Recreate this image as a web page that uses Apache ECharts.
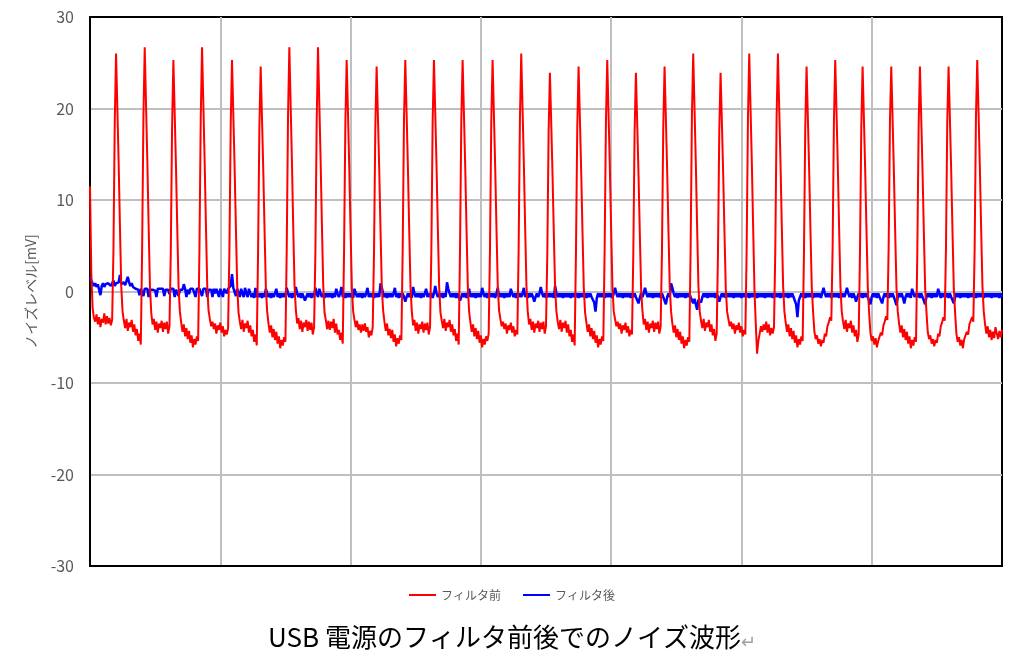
<!DOCTYPE html>
<html>
<head>
<meta charset="utf-8">
<script src="https://cdn.jsdelivr.net/npm/echarts@6/dist/echarts.min.js"></script>
<style>
  html, body { margin: 0; padding: 0; background: #fff; }
  #noise { width: 1024px; height: 663px; }
</style>
</head>
<body>
<div id="noise"></div>
<script>
// 波形データ（サンプル番号 0〜700、単位 mV）
var titleText = 'USB 電源のフィルタ前後でのノイズ波形';
var seriesNames = ['フィルタ前', 'フィルタ後'];
var yTicks = [-30, -20, -10, 0, 10, 20, 30];

var before = [
  11.5, 2.0, -1.8, -2.9, -3.3, -2.5, -3.6, -2.8, -3.9, -3.0, -3.4, -2.4, -3.6, -2.7, -3.5, -2.9, -3.7, -3.1, 4.5, 18.5,
  26.0, 20.0, 14.0, 7.0, 0.5, -2.2, -3.2, -4.0, -3.0, -4.3, -3.4, -3.9, -3.1, -4.4, -3.6, -4.8, -4.1, -5.4, -4.6, -5.8, 4.5, 19.0,
  26.7, 20.5, 14.3, 7.2, 0.6, -2.3, -3.6, -3.0, -4.2, -3.3, -4.5, -3.5, -4.0, -3.2, -4.4, -3.4, -4.1, -3.3, -4.6, -3.8, 4.2, 18.0,
  25.3, 19.5, 13.6, 6.8, 0.4, -2.2, -3.4, -4.4, -3.6, -4.9, -4.0, -5.2, -4.3, -5.6, -4.8, -6.1, -5.2, -5.8, -4.9, -5.4, 4.6, 19.0,
  26.7, 20.5, 14.2, 7.1, 0.5, -2.1, -3.0, -3.8, -3.3, -4.1, -3.5, -4.6, -3.7, -4.2, -3.4, -4.5, -3.8, -4.9, -4.2, -4.7, -4.0, 4.4, 18.2,
  25.3, 19.4, 13.5, 6.9, 0.5, -2.3, -3.3, -4.1, -3.1, -4.4, -3.5, -4.0, -3.2, -4.5, -3.7, -4.9, -4.2, -5.5, -4.7, -5.9, 4.3, 17.8,
  24.6, 19.0, 13.2, 6.6, 0.3, -2.2, -3.5, -4.5, -3.7, -5.0, -4.1, -5.3, -4.4, -5.7, -4.9, -6.2, -5.3, -5.9, -5.0, -5.5, 4.7, 19.2,
  26.7, 20.5, 14.1, 7.0, 0.6, -2.0, -3.5, -2.9, -4.1, -3.2, -4.4, -3.4, -3.9, -3.1, -4.3, -3.3, -4.2, -3.4, -4.7, -3.9, 4.3, 18.6,
  26.7, 20.6, 14.4, 7.3, 0.7, -2.3, -3.1, -4.1, -3.2, -4.2, -3.3, -4.0, -3.0, -4.5, -3.5, -4.7, -4.2, -5.3, -4.5, -5.7, 4.4, 18.3,
  25.3, 19.6, 13.5, 6.7, 0.4, -2.2, -3.1, -3.9, -3.2, -4.2, -3.6, -4.5, -3.6, -4.3, -3.5, -4.4, -3.9, -5.0, -4.3, -4.8, -3.9, 4.3, 17.9,
  24.6, 19.1, 13.3, 6.6, 0.4, -2.1, -3.3, -4.3, -3.5, -4.8, -4.1, -5.1, -4.2, -5.5, -4.7, -6.0, -5.1, -5.7, -4.8, -5.3, 4.5, 18.8,
  25.3, 19.5, 13.6, 6.8, 0.5, -2.2, -3.7, -3.1, -4.3, -3.4, -4.6, -3.6, -4.1, -3.3, -4.5, -3.5, -4.2, -3.4, -4.7, -3.9, 4.4, 18.6,
  25.3, 19.5, 13.6, 6.8, 0.5, -2.3, -3.2, -4.0, -3.0, -4.3, -3.4, -3.9, -3.1, -4.4, -3.6, -4.8, -4.1, -5.4, -4.6, -5.8, 4.5, 18.7,
  25.3, 19.5, 13.6, 6.8, 0.5, -2.2, -3.4, -4.4, -3.6, -4.9, -4.0, -5.2, -4.3, -5.6, -4.8, -6.1, -5.2, -5.8, -4.9, -5.4, -4.6, 4.5, 18.6,
  25.3, 19.5, 13.6, 6.8, 0.5, -2.1, -3.0, -3.8, -3.3, -4.1, -3.5, -4.6, -3.7, -4.2, -3.4, -4.5, -3.8, -4.9, -4.2, -4.7, 4.6, 19.0,
  26.0, 20.0, 14.0, 7.0, 0.6, -2.2, -3.6, -3.0, -4.2, -3.3, -4.5, -3.5, -4.0, -3.2, -4.4, -3.4, -4.1, -3.3, -4.6, -3.8, 4.0, 17.4,
  23.9, 18.5, 12.8, 6.4, 0.3, -2.2, -3.3, -4.1, -3.1, -4.4, -3.4, -4.0, -3.2, -4.5, -3.6, -4.9, -4.2, -5.5, -4.7, -5.9, 4.3, 17.9,
  24.6, 19.0, 13.2, 6.6, 0.4, -2.3, -3.4, -4.4, -3.6, -4.9, -4.0, -5.2, -4.3, -5.6, -4.8, -6.1, -5.2, -5.8, -4.9, -5.4, 4.5, 18.5,
  25.3, 19.5, 13.6, 6.8, 0.5, -2.2, -3.0, -3.8, -3.3, -4.1, -3.5, -4.6, -3.7, -4.2, -3.4, -4.5, -3.8, -4.9, -4.2, -4.7, 4.0, 17.4,
  23.9, 18.5, 12.8, 6.4, 0.3, -2.1, -3.6, -3.0, -4.2, -3.3, -4.5, -3.5, -4.0, -3.2, -4.4, -3.4, -4.1, -3.3, -4.6, -3.8, 4.3, 17.9,
  24.6, 19.0, 13.2, 6.6, 0.4, -2.2, -3.5, -4.5, -3.7, -5.0, -4.1, -5.3, -4.4, -5.7, -4.9, -6.2, -5.3, -5.9, -5.0, -5.5, 4.6, 19.2,
  26.0, 20.0, 14.0, 7.0, 0.6, -2.2, -3.2, -4.0, -3.0, -4.3, -3.4, -3.9, -3.1, -4.4, -3.6, -4.8, -4.1, -5.4, -4.6, 4.2, 17.5,
  23.9, 18.5, 12.8, 6.4, 0.3, -2.2, -3.0, -3.8, -3.3, -4.1, -3.5, -4.6, -3.7, -4.2, -3.4, -4.5, -3.8, -4.9, -4.2, -4.7, 4.5, 18.8,
  26.0, 20.0, 14.0, 7.0, 0.2, -3.5, -6.8, -5.4, -4.6, -3.8, -4.4, -3.6, -4.2, -3.3, -4.5, -3.6, -4.8, -4.0, -4.6, -3.9, 4.6, 19.0,
  26.0, 20.0, 14.0, 7.0, 0.6, -2.2, -3.4, -4.4, -3.6, -4.9, -4.0, -5.2, -4.3, -5.6, -4.8, -6.1, -5.2, -5.8, -4.9, -5.4, 4.3, 17.9,
  24.6, 19.0, 13.2, 6.6, 0.4, -2.2, -4.4, -5.2, -4.8, -5.7, -5.2, -6.0, -5.3, -5.6, -4.6, -4.9, -3.8, -3.4, -2.8, -3.2, 4.8, 18.6,
  25.3, 19.5, 13.6, 6.8, 0.5, -2.2, -3.3, -4.1, -3.1, -4.4, -3.5, -4.0, -3.2, -4.5, -3.7, -4.9, -4.2, -5.5, -4.7, 4.3, 17.9,
  24.6, 19.0, 13.2, 6.6, 0.4, -2.3, -4.5, -5.4, -4.9, -5.8, -5.1, -6.1, -5.4, -5.5, -4.5, -4.8, -3.7, -3.3, -2.7, -3.1, 4.8, 18.6,
  24.6, 19.0, 13.2, 6.6, 0.4, -2.2, -3.5, -4.5, -3.7, -5.0, -4.1, -5.3, -4.4, -5.7, -4.9, -6.2, -5.3, -5.9, -5.0, -5.5, 4.3, 17.9,
  24.6, 19.0, 13.2, 6.6, 0.4, -2.2, -4.4, -5.2, -4.8, -5.7, -5.2, -6.0, -5.3, -5.6, -4.6, -4.9, -3.8, -3.4, -2.8, -3.2, 4.8, 18.6,
  24.6, 19.0, 13.2, 6.6, 0.4, -2.3, -4.6, -5.5, -5.0, -5.9, -5.3, -6.2, -5.2, -5.4, -4.4, -4.7, -3.6, -3.2, -2.8, -3.3, 4.6, 19.0,
  25.3, 19.5, 13.6, 6.8, 0.5, -2.2, -3.6, -4.6, -3.8, -5.0, -4.2, -5.3, -4.4, -5.1, -3.9, -4.6, -5.2, -4.3, -5.0, -4.2
];

var after = [
  1.6, 1.2, 0.9, 0.6, 0.9, 0.5, 0.8, 0.2, -0.4, 0.6, 0.9, 0.5, 0.8, 0.6, 0.9, 0.7, 0.6, 0.8, 1.2, 0.6,
  0.9, 0.7, 1.0, 1.8, 0.8, 0.6, 1.0, 0.7, 0.9, 1.6, 1.0, 0.6, 0.9, 0.5, 0.4, 0.3, 0.5, 0.2, -0.4, 0.3,
  0.2, -0.5, 0.3, 0.1, 0.3, -0.6, 0.2, 0.3, 0.2, 0.3, 0.1, -0.6, 0.3, 0.2, 0.3, 0.2, 0.3, -0.5, 0.2, 0.3,
  0.2, -0.3, 0.3, 0.2, 0.3, -0.6, 0.2, 0.3, -0.5, 0.2, 0.3, 0.2, 0.8, 0.3, -0.6, 0.2, -0.3, 0.3, 0.2, 0.3,
  0.2, -0.6, 0.3, 0.2, 0.3, 0.2, -0.5, 0.3, 0.2, 0.3, -0.6, 0.2, 0.3, 0.2, -0.6, 0.3, -0.2, 0.3, 0.2, -0.6,
  0.3, 0.2, -0.6, 0.3, 0.2, -0.2, 0.3, 0.2, 0.6, 1.9, 0.4, 0.2, -0.5, 0.3, 0.2, -0.6, 0.3, -0.2, -0.6, 0.4,
  -0.2, -0.6, 0.3, -0.2, -0.6, -0.2, -0.7, 0.4, -0.6, -0.2, -0.6, -0.2, -0.7, -0.2, -0.6, 0.3, -0.2, -0.6, -0.2, -0.7,
  -0.2, -0.6, -0.2, 0.3, -0.6, -0.2, -0.7, -0.2, -0.6, -0.2, -0.6, 0.4, -0.2, -0.6, -0.2, -0.7, -0.2, -0.6, 0.5, -0.2,
  -0.6, -0.2, -0.7, -0.2, -0.6, -1.0, -0.6, -0.2, -0.6, -0.2, -0.7, -0.2, -0.6, 0.4, -0.2, -0.6, 0.3, -0.2, -0.6, -0.2,
  -0.7, -0.2, -0.6, -0.2, -0.6, -0.2, -0.7, -0.2, -0.6, 0.3, -0.2, -0.6, -0.2, 0.5, -0.6, -0.2, -0.7, -0.2, -0.6, -0.2,
  -0.6, -0.2, -0.7, 0.3, -0.2, -0.6, -0.2, -0.6, -0.2, -0.7, -0.2, -0.6, -0.2, 0.4, -0.6, -0.2, -0.6, -0.2, -0.7, -0.2,
  -0.6, -0.2, -0.6, 0.9, 0.4, -0.2, -0.6, -0.2, -0.7, -0.2, -0.6, -0.2, -0.6, -0.2, 0.4, -0.6, -0.2, -0.7, -0.2, -0.6,
  -0.2, -0.6, -1.1, -0.6, -0.2, -0.6, -0.2, -0.7, 0.5, -0.2, -0.6, -0.2, -0.6, -0.2, -0.7, -0.2, -0.6, -0.2, 0.3, -0.6,
  -0.2, -0.6, -0.2, -0.7, -0.2, 0.6, -0.2, -0.6, -0.2, -0.6, -0.2, -0.7, -0.2, -0.6, 1.0, 0.3, -0.2, -0.6, -0.2, -0.6,
  -0.2, -0.7, -0.2, -0.6, -1.0, -0.6, -0.2, -0.6, -0.2, -0.7, -0.2, 0.3, -0.6, -0.2, -0.6, -0.2, -0.7, -0.2, -0.6, -0.2,
  -0.6, 0.4, -0.2, -0.6, -0.2, -0.7, -0.2, -0.6, -0.2, -0.6, -0.2, -0.7, -0.2, 0.4, -0.6, -0.2, -0.6, -0.2, -0.7, -0.2,
  -0.6, -0.2, -0.6, 0.3, -0.2, -0.6, -0.2, -0.7, -0.2, -0.6, -0.2, -0.6, -0.2, 0.4, -0.6, -0.2, -0.7, -0.2, -0.6, -0.2,
  -0.6, -1.1, -0.6, -0.2, -0.6, -0.2, 0.5, -0.2, -0.6, -0.2, -0.7, -0.2, -0.6, -0.2, -0.6, -0.2, -0.7, 0.6, -0.2, -0.6,
  -0.2, -0.6, -0.2, -0.7, -0.2, -0.6, -0.2, -0.6, -0.2, -0.7, -0.2, -0.6, -0.2, -0.6, -0.2, -0.7, -0.2, -0.6, -0.2, -0.6,
  -0.2, -0.7, -0.2, -0.6, -0.2, -0.6, -0.7, -1.2, -2.2, -0.7, -0.2, -0.6, -0.2, -0.6, -0.2, -0.7, -0.2, -0.6, -0.2, -0.6,
  -0.2, -0.7, -0.2, 0.4, -0.2, -0.6, -0.2, -0.6, -0.2, -0.7, -0.2, -0.6, -0.2, -0.6, -0.2, -0.7, -0.2, -0.6, -0.2, -0.6,
  -0.7, -1.3, -0.7, -0.2, -0.6, -0.2, 0.4, -0.2, -0.6, -0.2, -0.6, -0.2, -0.7, -0.2, -0.6, -0.2, -0.6, -0.2, -0.7, -0.2,
  -0.6, -0.7, -1.4, -0.6, -0.2, -0.6, 0.9, 0.4, -0.2, -0.6, -0.2, -0.7, -0.2, -0.6, -0.2, -0.6, -0.2, -0.7, -0.2, -0.6,
  -0.2, -0.6, -0.7, -1.3, -0.8, -1.4, -2.0, -0.9, -0.7, -1.2, -0.6, -0.2, -0.6, -0.2, -0.7, -0.2, -0.6, -0.2, -0.6, -0.2,
  -0.7, -0.2, -0.6, -1.1, -0.6, -0.2, -0.6, -0.2, -0.7, -0.2, -0.6, -0.2, -0.6, -0.2, -0.7, -0.2, -0.6, -0.2, -0.6, -0.2,
  -0.7, -0.2, -0.6, -0.2, -0.6, -0.2, -0.7, -0.2, -0.6, -0.2, -0.6, -0.2, -0.7, -0.2, -0.6, -0.2, -0.6, -0.2, -0.7, -0.2,
  -0.6, -0.2, -0.6, -0.2, -0.7, -0.2, -0.6, -0.2, -0.6, -0.2, -0.7, -0.2, -0.6, -0.2, -0.6, -0.2, -0.7, -0.2, -0.6, -0.2,
  -0.6, -0.7, -1.4, -2.8, -1.0, -0.6, -0.2, -0.6, -0.2, -0.7, -0.2, -0.6, -0.2, -0.6, -0.2, -0.7, -0.2, -0.6, -0.2, -0.6,
  -0.2, -0.7, -0.2, 0.4, -0.2, -0.6, -0.2, -0.6, -0.2, -0.7, -0.2, -0.6, -0.2, -0.6, -0.2, -0.7, -0.2, -0.6, -0.2, -0.6,
  -0.2, 0.4, -0.2, -0.6, -0.2, -0.7, -0.2, -0.6, -1.1, -0.6, -0.2, -0.6, -0.2, -0.7, -0.2, -0.6, -0.2, -0.6, -0.7, -1.4,
  -0.6, -0.2, -0.6, -0.2, -0.7, -0.2, -0.6, -0.7, -1.3, -0.6, -0.2, -0.6, -0.2, -0.7, -0.2, -0.6, -0.2, -0.6, -0.7, -1.5,
  -0.6, -0.2, -0.6, -0.2, -0.7, -1.3, -0.6, -0.2, -0.6, -0.2, -0.7, 0.3, -0.2, -0.6, -0.2, -0.6, -0.2, -0.7, -0.2, -0.6,
  -0.7, -1.4, -0.6, -0.2, -0.6, -0.2, -0.7, -0.2, -0.6, -0.2, -0.6, 0.3, -0.2, -0.7, -0.2, -0.6, -0.2, -0.6, -0.2, -0.7,
  -0.2, -0.6, -0.7, -1.3, -0.6, -0.2, -0.6, -0.2, -0.7, -0.2, -0.6, -0.2, -0.6, -0.2, -0.7, -0.2, -0.6, -0.2, -0.6, -0.2,
  -0.7, -0.2, -0.6, -0.2, -0.6, -0.2, -0.7, -0.2, -0.6, -0.2, -0.6, -0.2, -0.7, -0.2, -0.6, -0.2, -0.6, -0.2, -0.7, -0.2,
  -0.6
];

var myChart = echarts.init(document.getElementById('noise'));

function toPairs(arr) {
  var out = [];
  for (var i = 0; i < arr.length; i++) {
    out.push([i, arr[i]]);
  }
  return out;
}

var option = {
  backgroundColor: '#fff',
  animation: false,
  textStyle: { fontFamily: 'Noto Sans CJK JP' },
  title: {
    text: '{t|' + titleText + '}{r|↵}',
    left: 'center',
    top: 619,
    textStyle: {
      rich: {
        t: { fontSize: 26, color: '#000', fontWeight: 'normal', fontFamily: 'Noto Sans CJK JP' },
        r: { fontSize: 18, color: '#a0a0a0', fontWeight: 'normal', padding: [8, 0, 0, 0] }
      }
    }
  },
  legend: {
    bottom: 57,
    left: 'center',
    icon: 'rect',
    itemWidth: 27,
    itemHeight: 2,
    itemGap: 22,
    textStyle: { color: '#595959', fontSize: 12 },
    data: seriesNames
  },
  grid: {
    left: 90,
    right: 22,
    top: 17,
    bottom: 97,
    show: true,
    borderColor: '#000',
    borderWidth: 2
  },
  xAxis: {
    type: 'value',
    min: 0,
    max: 700,
    interval: 100,
    axisLabel: { show: false },
    axisTick: { show: false },
    axisLine: { show: true, onZero: false, lineStyle: { color: '#000', width: 2 } },
    splitLine: { showMinLine: false, showMaxLine: false, lineStyle: { color: '#bfbfbf', width: 2 } }
  },
  yAxis: {
    type: 'value',
    min: yTicks[0],
    max: yTicks[yTicks.length - 1],
    interval: 10,
    name: 'ノイズレベル[mV]',
    nameLocation: 'middle',
    nameGap: 52,
    nameTextStyle: { color: '#595959', fontSize: 14 },
    axisLabel: { color: '#595959', fontSize: 16, margin: 16 },
    axisTick: { show: false },
    axisLine: { show: true, lineStyle: { color: '#000', width: 2 } },
    splitLine: { showMinLine: false, showMaxLine: false, lineStyle: { color: '#bfbfbf', width: 2 } }
  },
  series: [
    {
      name: seriesNames[0],
      type: 'line',
      showSymbol: false,
      z: 3,
      lineStyle: { color: '#ff0000', width: 2 },
      itemStyle: { color: '#ff0000' },
      data: toPairs(before)
    },
    {
      name: seriesNames[1],
      type: 'line',
      showSymbol: false,
      z: 2,
      lineStyle: { color: '#0000ff', width: 2.5 },
      itemStyle: { color: '#0000ff' },
      data: toPairs(after)
    }
  ]
};

myChart.setOption(option);
</script>
</body>
</html>
